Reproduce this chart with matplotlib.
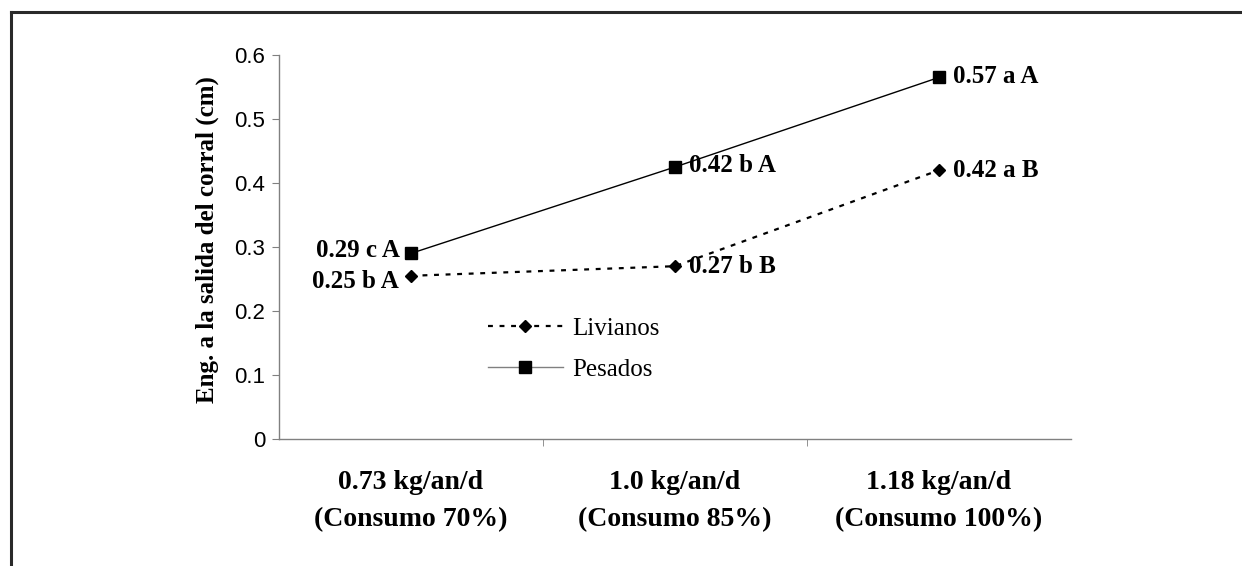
import matplotlib
matplotlib.use("Agg")
import matplotlib.pyplot as plt
from matplotlib.lines import Line2D

# data
categorias = ["0.73 kg/an/d\n(Consumo 70%)", "1.0 kg/an/d\n(Consumo 85%)", "1.18 kg/an/d\n(Consumo 100%)"]
livianos = [0.255, 0.27, 0.42]
pesados = [0.29, 0.425, 0.565]
etiq_livianos = ["0.25 b A", "0.27 b B", "0.42 a B"]
etiq_pesados = ["0.29 c A", "0.42 b A", "0.57 a A"]
y_ticks = [0, 0.1, 0.2, 0.3, 0.4, 0.5, 0.6]
y_ticklabels = ["0", "0.1", "0.2", "0.3", "0.4", "0.5", "0.6"]

serif = "Liberation Serif"
sans = "Liberation Sans"
fs_ann = 18

fig = plt.figure(figsize=(12.42, 5.66), dpi=100)
ax = fig.add_axes([0.2246, 0.2244, 0.6377, 0.6784])

x = list(range(len(categorias)))
ax.plot(x, livianos, color="black", lw=1.6, ls=(0, (2.2, 3.0)),
        marker="D", markersize=6.5, label="Livianos")
ax.plot(x, pesados, color="black", lw=1.0, ls="-",
        marker="s", markersize=8, label="Pesados")

# annotations (left of first point, right of the others)
for i, (v, t) in enumerate(zip(pesados, etiq_pesados)):
    if i == 0:
        ax.annotate(t, (i, v), xytext=(-8, 2), textcoords="offset points",
                    ha="right", va="center", fontsize=fs_ann, fontweight="bold", family=serif)
    else:
        ax.annotate(t, (i, v), xytext=(10, 1), textcoords="offset points",
                    ha="left", va="center", fontsize=fs_ann, fontweight="bold", family=serif)
for i, (v, t) in enumerate(zip(livianos, etiq_livianos)):
    if i == 0:
        ax.annotate(t, (i, v), xytext=(-9, -4), textcoords="offset points",
                    ha="right", va="center", fontsize=fs_ann, fontweight="bold", family=serif)
    else:
        ax.annotate(t, (i, v), xytext=(10, 0), textcoords="offset points",
                    ha="left", va="center", fontsize=fs_ann, fontweight="bold", family=serif)

ax.set_xlim(-0.5, 2.5)
ax.set_ylim(0, 0.6)
ax.set_yticks(y_ticks)
ax.set_yticklabels(y_ticklabels, family=sans, fontsize=16)
ax.set_xticks(x)
ax.set_xticklabels(categorias, family=serif, fontweight="bold", fontsize=20, linespacing=1.65)
ax.set_xticks([0.5, 1.5], minor=True)
ax.tick_params(axis="x", which="major", length=0, pad=22)
ax.tick_params(axis="x", which="minor", length=5, color="#808080")
ax.tick_params(axis="y", length=5, color="#808080", pad=5)

ax.set_ylabel("Eng. a la salida del corral (cm)", family=serif, fontweight="bold",
              fontsize=18, labelpad=10)
ax.yaxis.set_label_coords(-0.076, 0.52)

for s in ["top", "right"]:
    ax.spines[s].set_visible(False)
for s in ["left", "bottom"]:
    ax.spines[s].set_color("#808080")
    ax.spines[s].set_linewidth(1.0)

leg = ax.legend(loc="upper left", bbox_to_anchor=(0.235, 0.375), frameon=False,
                prop={"family": serif, "size": 18}, handlelength=3.0,
                labelspacing=0.75, handletextpad=0.4)
leg.get_lines()[1].set_color("#808080")
leg.get_lines()[1].set_markerfacecolor("black")
leg.get_lines()[1].set_markeredgecolor("black")

# frame around the figure (top and left edges only)
top = 1 - 12 / 566
fig.add_artist(Line2D([11 / 1242, 1], [top, top], transform=fig.transFigure, color="#2a2a2a", lw=2.2))
fig.add_artist(Line2D([11 / 1242, 11 / 1242], [0, top], transform=fig.transFigure, color="#2a2a2a", lw=2.2))

fig.savefig("out.png", dpi=100)
